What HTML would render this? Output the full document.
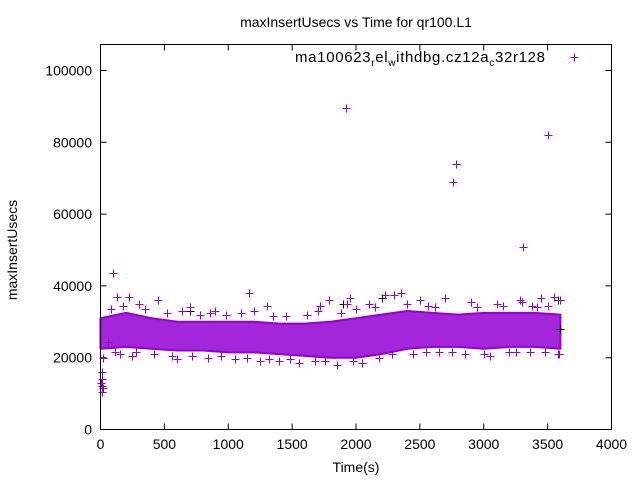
<!DOCTYPE html>
<html><head><meta charset="utf-8"><style>
body{margin:0;background:#fff}
svg{display:block;font-family:"Liberation Sans",sans-serif}
</style></head><body>
<svg id="chart" width="640" height="480">
<text x="356" y="27" font-size="14" text-anchor="middle">maxInsertUsecs vs Time for qr100.L1</text>
<text x="356" y="472" font-size="14" text-anchor="middle">Time(s)</text>
<text transform="translate(17,250) rotate(-90)" font-size="14" text-anchor="middle">maxInsertUsecs</text>
<g id="axes"></g>
<g id="marks"></g>
<rect x="100.5" y="44.5" width="511" height="385" fill="none" stroke="#000"/>
<g>
<text x="295" y="62" font-size="15" textLength="250" lengthAdjust="spacing">ma100623<tspan font-size="10" dy="4">r</tspan><tspan dy="-4">el</tspan><tspan font-size="10" dy="4">w</tspan><tspan dy="-4">ithdbg.cz12a</tspan><tspan font-size="10" dy="4">c</tspan><tspan dy="-4">32r128</tspan></text>
<path d="M570.5 57.5h8M574.5 53.5v8" stroke="#9400d3"/>
</g>
</svg>
<script>
const xTicks=[0,500,1000,1500,2000,2500,3000,3500,4000];
const yTicks=[0,20000,40000,60000,80000,100000];
const bandTimes=[0,200,400,600,800,1000,1200,1400,1600,1800,2000,2200,2400,2600,2800,3000,3200,3400,3600];
const bandLow=[22500,23000,22500,22000,22000,21500,21500,21000,20500,20000,20000,21000,22500,23000,23000,22500,23000,23000,22500];
const bandHigh=[31000,32500,31000,30000,30000,30000,30000,29500,29500,30000,31000,32000,33000,32500,32000,32500,32500,32500,32000];
const ptTimes=[100,1920,2780,2760,3500,3310,10,8,12,15,20,5,18,60,130,220,1160,2350,2230,1930,1790,3280,3450,1400,300,450,700,900,1300,1700,2100,2500,2700,2900,3100,3300,3550,3600,150,250,600,1050,1250,1550,1850,2050,2450,2650,2850,3050,3250,3580,1720,1950,2300,
80,180,350,520,640,780,860,980,1100,1200,1350,1450,1620,1880,2000,2150,2400,2560,2620,2950,3150,3380,3420,3500,
110,280,420,560,720,840,940,1150,1320,1480,1680,1760,1980,2180,2280,2550,2750,3000,3200,3360,3480,3590];
const ptValues=[43500,89500,74000,69000,82000,50800,14000,12000,10500,16000,20000,13000,11500,24500,37000,37000,38000,38000,37500,35000,36000,36000,36500,19000,35000,36000,34000,33000,34500,33000,35000,36000,36500,35500,35000,35500,37000,36000,21000,20500,19500,19500,19000,18500,18000,18500,21000,21500,21000,20500,21500,21000,34500,36500,37500,
33500,34500,33500,32500,33000,32000,32500,32000,32500,33000,31500,31500,32000,32500,33500,34000,35000,34500,34000,34000,34500,34500,34000,34500,
21500,21500,21000,20500,20500,20000,20500,20000,19500,19500,19000,19000,19000,20000,21000,21500,21500,21000,21500,21500,21500,21000];
const blkTimes=[3600,3580,1900,2200,700];
const blkValues=[28000,36000,35000,36500,33000];
const X=t=>100.5+t*511/4000;
const Y=v=>429.5-v*(385-26)/100000;
const ns="http://www.w3.org/2000/svg";
const axes=document.getElementById('axes'),marks=document.getElementById('marks');
function mk(tag,attrs,parent){const e=document.createElementNS(ns,tag);for(const k in attrs)e.setAttribute(k,attrs[k]);parent.appendChild(e);return e;}
xTicks.forEach(t=>{const x=X(t);
 const l=mk('path',{d:`M${x} 429.5v-6M${x} 44.5v6`,stroke:'#000'},axes);
 
 
 const tx=mk('text',{x:x,y:449,'font-size':14,'text-anchor':'middle'},axes);tx.textContent=t;
 
 });
yTicks.forEach(v=>{const y=Y(v);
 const l=mk('path',{d:`M100.5 ${y}h6M611.5 ${y}h-6`,stroke:'#000'},axes);
 
 
 const tx=mk('text',{x:92,y:y+5,'font-size':14,'text-anchor':'end'},axes);tx.textContent=v;
 
 });
let d='M'+bandTimes.map((t,i)=>X(t)+' '+Y(bandHigh[i])).join('L');
for(let i=bandTimes.length-1;i>=0;i--)d+='L'+X(bandTimes[i])+' '+Y(bandLow[i]);
const band=mk('path',{d:d+'Z',fill:'#9400d3','fill-opacity':0.85,stroke:'#9400d3','stroke-width':2,'stroke-linejoin':'round'},marks);


function cross(t,v,c,name){const x=Math.round(X(t))+0.5,y=Math.round(Y(v))+0.5;
 const p=mk('path',{d:`M${x-4} ${y}h8M${x} ${y-4}v8`,stroke:c},marks);
 
 }
blkTimes.forEach((t,i)=>cross(t,blkValues[i],'#000','black-point'));
ptTimes.forEach((t,i)=>cross(t,ptValues[i],'#9400d3','data-point'));
</script>
</body></html>
